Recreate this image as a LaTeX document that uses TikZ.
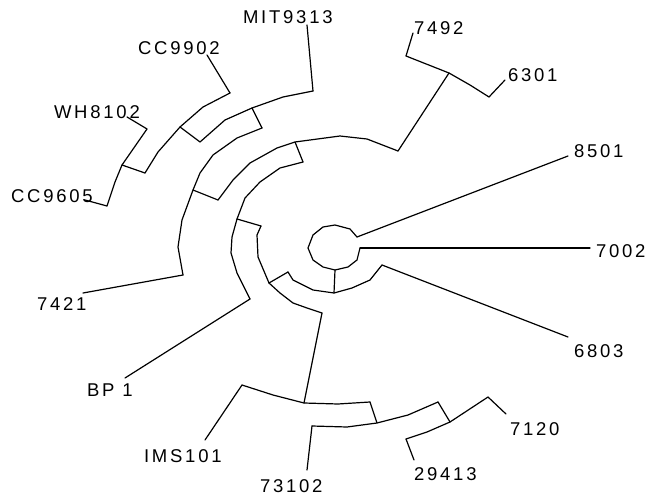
\documentclass[tikz,border=0pt]{standalone}
\usepackage{fontspec}
\setmainfont{Liberation Sans}[LetterSpace=15]
\begin{document}
\begin{tikzpicture}[x=1pt,y=-1pt,
  branch/.style={line width=1.2pt, line join=round, line cap=round},
  lbl/.style={anchor=base west, inner sep=0pt, outer sep=0pt, font=\fontsize{18.5}{21}\selectfont}]
\useasboundingbox (0,0) rectangle (650,497);
% ---------- key points ----------
% root (circle)
\coordinate (r8501) at (357,237);
\coordinate (r7002) at (360,248);
\coordinate (rb) at (335,270);
% node H
\coordinate (hL) at (288,272);
\coordinate (h0) at (334,293);
\coordinate (hR) at (382,265);
% node G
\coordinate (gT) at (261,226);
\coordinate (g0) at (269,283);
\coordinate (gB) at (322,313);
% node I
\coordinate (iL) at (242,385);
\coordinate (i0) at (304,403);
\coordinate (iR) at (370,402);
% node J
\coordinate (jL) at (312,426);
\coordinate (j0) at (377,423);
\coordinate (jR) at (438,402);
% node K
\coordinate (kL) at (406,439);
\coordinate (k0) at (450,422);
\coordinate (kR) at (488,397);
% node F
\coordinate (fT) at (303,162);
\coordinate (f0) at (237,219);
\coordinate (fB) at (250,299);
% node E
\coordinate (eL) at (218,200);
\coordinate (e0) at (295,142);
\coordinate (eR) at (398,151);
% node P
\coordinate (pL) at (406,56);
\coordinate (p0) at (449,73);
\coordinate (pR) at (489,97);
% node D
\coordinate (dT) at (262,128);
\coordinate (d0) at (193,190);
\coordinate (dB) at (183,275);
% node A
\coordinate (aL) at (200,142);
\coordinate (a0) at (252,108);
\coordinate (aR) at (313,91);
% node B
\coordinate (bT) at (230,93);
\coordinate (b0) at (180,127);
\coordinate (bB) at (145,173);
% node C
\coordinate (cT) at (147,129);
\coordinate (c0) at (122,165);
\coordinate (cB) at (107,206);
% leaf ends
\coordinate (e8501) at (568,156);
\coordinate (e7002) at (590,248);
\coordinate (e6803) at (568,337);
\coordinate (e7120) at (506,414);
\coordinate (e29413) at (414,460);
\coordinate (e73102) at (307,470);
\coordinate (eIMS) at (205,440);
\coordinate (eBP) at (125,378);
\coordinate (e7421) at (83,293);
\coordinate (eCC9605) at (85,200);
\coordinate (eWH) at (127,117);
\coordinate (eCC9902) at (207,55);
\coordinate (eMIT) at (307,25);
\coordinate (e7492) at (413,33);
\coordinate (e6301) at (505,80);
% ---------- arcs ----------
\draw[branch] (r8501) -- (350,229) -- (335,225) -- (323,227) -- (313,235) -- (308,248) -- (313,260) -- (323,267) -- (rb) -- (348,267) -- (357,260) -- (r7002);
\draw[branch] (hL) -- (293,280) -- (313,290) -- (h0) -- (352,288) -- (370,280) -- (hR);
\draw[branch] (gT) -- (257,235) -- (258,257) -- (g0) -- (280,293) -- (293,303) -- (307,308) -- (gB);
\draw[branch] (iL) -- (273,395) -- (i0) -- (338,404) -- (iR);
\draw[branch] (jL) -- (347,427) -- (j0) -- (408,415) -- (jR);
\draw[branch] (kL) -- (427,432) -- (k0) -- (kR);
\draw[branch] (fT) -- (280,168) -- (260,182) -- (245,198) -- (f0) -- (232,237) -- (231,253) -- (237,273) -- (fB);
\draw[branch] (eL) -- (233,180) -- (250,163) -- (277,148) -- (e0) -- (340,136) -- (367,139) -- (eR);
\draw[branch] (pL) -- (p0) -- (470,85) -- (pR);
\draw[branch] (dT) -- (237,138) -- (213,155) -- (200,173) -- (d0) -- (182,220) -- (178,247) -- (dB);
\draw[branch] (aL) -- (225,120) -- (a0) -- (283,97) -- (aR);
\draw[branch] (bT) -- (203,107) -- (b0) -- (158,152) -- (bB);
\draw[branch] (cT) -- (c0) -- (115,182) -- (cB);
% ---------- internal radial links ----------
\draw[branch] (rb) -- (h0);
\draw[branch] (hL) -- (g0);
\draw[branch] (gT) -- (f0);
\draw[branch] (gB) -- (i0);
\draw[branch] (iR) -- (j0);
\draw[branch] (jR) -- (k0);
\draw[branch] (fT) -- (e0);
\draw[branch] (eR) -- (p0);
\draw[branch] (eL) -- (d0);
\draw[branch] (dT) -- (a0);
\draw[branch] (aL) -- (b0);
\draw[branch] (bB) -- (c0);
% ---------- leaves ----------
\draw[branch] (r8501) -- (e8501);
\draw[branch] (r7002) -- (e7002);
\draw[branch] (hR) -- (e6803);
\draw[branch] (kR) -- (e7120);
\draw[branch] (kL) -- (e29413);
\draw[branch] (jL) -- (e73102);
\draw[branch] (iL) -- (eIMS);
\draw[branch] (fB) -- (eBP);
\draw[branch] (dB) -- (e7421);
\draw[branch] (cB) -- (eCC9605);
\draw[branch] (cT) -- (eWH);
\draw[branch] (bT) -- (eCC9902);
\draw[branch] (aR) -- (eMIT);
\draw[branch] (pL) -- (e7492);
\draw[branch] (pR) -- (e6301);
% ---------- labels ----------
\node[lbl] (l8501) at (574,158) {8501};
\node[lbl] (l7002) at (596,257) {7002};
\node[lbl] (l6803) at (574,357) {6803};
\node[lbl] (l7120) at (510,435) {7120};
\node[lbl] (l29413) at (414,480) {29413};
\node[lbl] (l73102) at (260,492) {73102};
\node[lbl] (lIMS) at (144,462) {IMS101};
\node[lbl] (lBP) at (87,396) {BP 1};
\node[lbl] (l7421) at (37,310) {7421};
\node[lbl] (lCC9605) at (11,203) {CC9605};
\node[lbl] (lWH) at (54,119) {WH8102};
\node[lbl] (lCC9902) at (138,55) {CC9902};
\node[lbl] (lMIT) at (243,24) {MIT9313};
\node[lbl] (l7492) at (414,35) {7492};
\node[lbl] (l6301) at (508,82) {6301};
\end{tikzpicture}
\end{document}
